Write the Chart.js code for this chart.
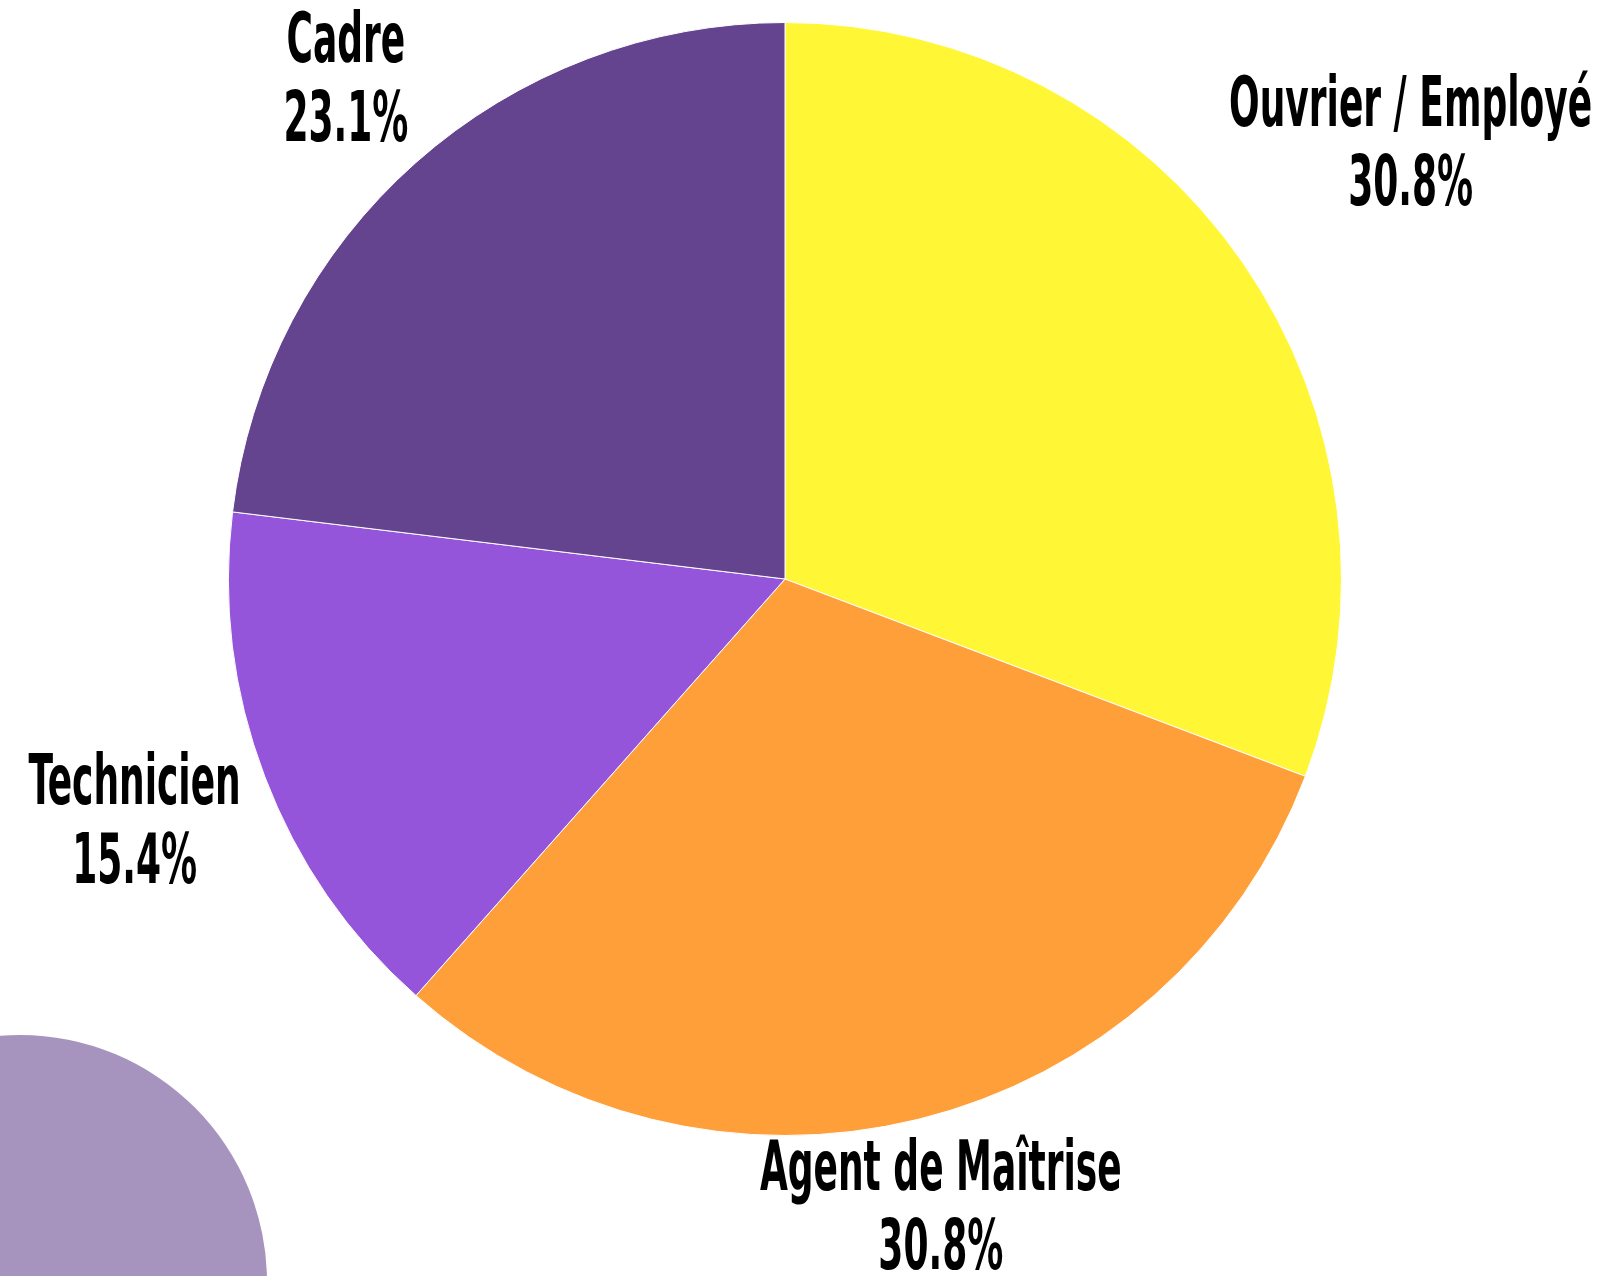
<!DOCTYPE html>
<html>
<head>
<meta charset="utf-8">
<script src="https://cdn.jsdelivr.net/npm/chart.js@4.4.1/dist/chart.umd.min.js"></script>
<style>
  html, body { margin: 0; padding: 0; background: #fff; overflow: hidden; }
  #wrap { position: relative; width: 1603px; height: 1276px; }
  #blob { position: absolute; left: -227px; top: 1035px; width: 494px; height: 494px;
          border-radius: 50%; background: #a694bf; }
  #myChart { position: absolute; left: 0; top: 0; }
</style>
</head>
<body>
<div id="wrap">
  <div id="blob"></div>
  <canvas id="myChart" width="1603" height="1276"></canvas>
</div>
<script>
// categories and counts (shares shown as %)
const categories = ['Ouvrier / Employé', 'Agent de Maîtrise', 'Technicien', 'Cadre'];
const counts = [4, 4, 2, 3];
const sliceColors = ['#fff735', '#ff9f3a', '#9555db', '#65448f'];

// where each label sits: distance from centre, in radii, along the slice middle
const labelDist = [1.366, 1.17, 1.25, 1.19];

const total = counts.reduce((a, b) => a + b, 0);

const outsideLabels = {
    id: 'outsideLabels',
    afterDatasetsDraw(chart) {
        const ctx = chart.ctx;
        const meta = chart.getDatasetMeta(0);
        ctx.save();
        ctx.fillStyle = '#000';
        ctx.textAlign = 'center';
        ctx.textBaseline = 'middle';
        ctx.font = 'bold 69px "DejaVu Sans Condensed", "DejaVu Sans", sans-serif';
        meta.data.forEach((arc, i) => {
            const p = arc.getProps(['x', 'y', 'startAngle', 'endAngle', 'outerRadius'], true);
            const mid = (p.startAngle + p.endAngle) / 2;
            const d = p.outerRadius * labelDist[i];
            const lx = p.x + Math.cos(mid) * d;
            const ly = p.y + Math.sin(mid) * d;
            const pct = (counts[i] / total * 100).toFixed(1) + '%';
            [categories[i], pct].forEach((line, k) => {
                ctx.save();
                ctx.translate(lx, ly + (k - 0.5) * 79);
                ctx.scale(0.58, 1);
                ctx.fillText(line, 0, 0);
                ctx.restore();
            });
        });
        ctx.restore();
    }
};

const ctx = document.getElementById('myChart').getContext('2d');
new Chart(ctx, {
    type: 'pie',
    data: {
        labels: categories,
        datasets: [{
            data: counts,
            backgroundColor: sliceColors,
            borderColor: '#ffffff',
            borderWidth: 1
        }]
    },
    options: {
        responsive: false,
        animation: false,
        layout: { padding: { left: 0, right: 33, top: 22, bottom: 140 } },
        plugins: {
            legend: { display: false },
            tooltip: { enabled: false }
        }
    },
    plugins: [outsideLabels]
});
</script>
</body>
</html>
